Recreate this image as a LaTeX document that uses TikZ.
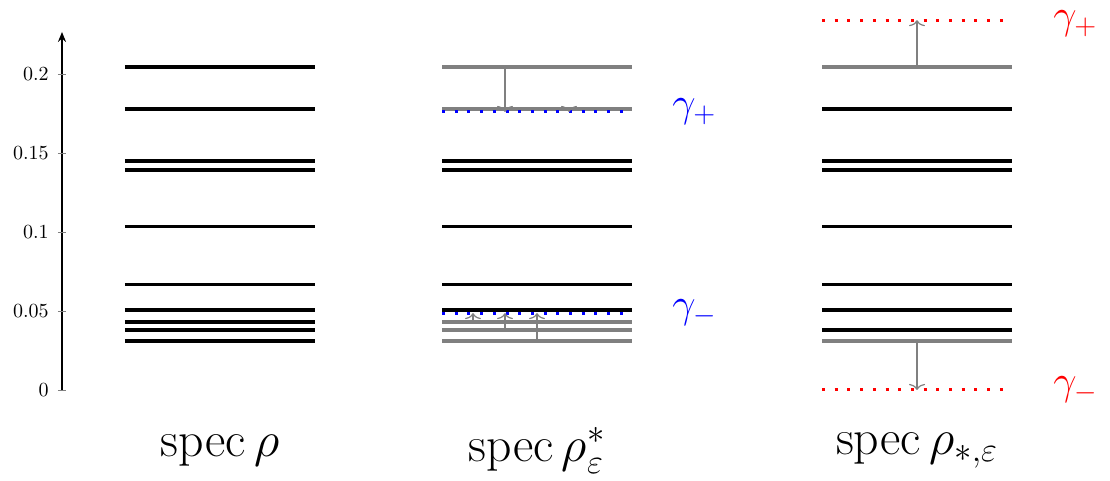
\documentclass[tikz,border=0pt]{standalone}
\usepackage{amsmath}
\usetikzlibrary{arrows.meta}
\definecolor{lvgray}{RGB}{128,128,128}
\begin{document}
\begin{tikzpicture}[x=0.5pt,y=790pt,
  level/.style={line width=1.6pt,black},
  glevel/.style={line width=1.6pt,lvgray},
  gamline/.style={line width=1.5pt,dash pattern=on 1.5pt off 4.85pt},
  shiftarr/.style={lvgray,line width=0.6pt,-{To[length=3pt,width=8pt]}},
  ticklab/.style={anchor=east,inner sep=0pt,font=\fontsize{9.6}{11}\selectfont},
  speclab/.style={anchor=center,font=\fontsize{25}{30}\selectfont},
  gamlab/.style={anchor=west,inner sep=0pt,font=\fontsize{22.5}{27}\selectfont}]
\useasboundingbox (-62,-0.0576) rectangle (1048,0.2468);
% axis
\coordinate (o) at (0,0);
\coordinate (top) at (0,0.2266);
\draw[line width=0.8pt,-{Stealth[length=5pt,width=4pt]}] (o) -- (top);
\foreach \v/\t in {0/0,0.05/0.05,0.1/0.1,0.15/0.15,0.2/0.2}{
  \draw[lvgray,line width=0.4pt] (-4,\v) -- (4,\v);
  \node[ticklab] (t\t) at (-13,\v) {$\t$};
}
% left column
\foreach \v [count=\i] in {0.2044,0.1778,0.1449,0.1392,0.1032,0.0665,0.0506,0.0430,0.0380,0.0310}{
  \draw[level] (63,\v) -- (253,\v);
}
% middle column
\foreach \v in {0.1449,0.1392,0.1032,0.0665,0.0506}{
  \draw[level] (380,\v) -- (570,\v);
}
\foreach \v in {0.2044,0.1778,0.0430,0.0380,0.0310}{
  \draw[glevel] (380,\v) -- (570,\v);
}
\draw[gamline,blue] (380,0.1760) -- (570,0.1760);
\draw[gamline,blue] (380,0.0486) -- (570,0.0486);
\coordinate (ma1) at (443,0.2044); \coordinate (mb1) at (443,0.1760);
\coordinate (ma2) at (507,0.1778); \coordinate (mb2) at (507,0.1760);
\coordinate (ma3) at (411,0.0430); \coordinate (mb3) at (411,0.0486);
\coordinate (ma4) at (443,0.0380); \coordinate (mb4) at (443,0.0486);
\coordinate (ma5) at (475,0.0310); \coordinate (mb5) at (475,0.0486);
\foreach \k in {1,...,5}{\draw[shiftarr] (ma\k) -- (mb\k);}
\node[gamlab,blue] (gpm) at (610,0.1760) {$\gamma_+$};
\node[gamlab,blue] (gmm) at (610,0.0486) {$\gamma_-$};
% right column
\foreach \v in {0.1778,0.1449,0.1392,0.1032,0.0665,0.0506,0.0380}{
  \draw[level] (760,\v) -- (950,\v);
}
\foreach \v in {0.2044,0.0310}{
  \draw[glevel] (760,\v) -- (950,\v);
}
\draw[gamline,red] (760,0.2340) -- (950,0.2340);
\draw[gamline,red] (760,0) -- (950,0);
\coordinate (ra1) at (855,0.2044); \coordinate (rb1) at (855,0.2340);
\coordinate (ra2) at (855,0.0310); \coordinate (rb2) at (855,0);
\draw[shiftarr] (ra1) -- (rb1);
\draw[shiftarr] (ra2) -- (rb2);
\node[gamlab,red] (gpr) at (991,0.2318) {$\gamma_+$};
\node[gamlab,red] (gmr) at (991,0) {$\gamma_-$};
% labels
\node[speclab] (l1) at (158,-0.0385) {$\operatorname{spec}\rho$};
\node[speclab] (l2) at (475,-0.0385) {$\operatorname{spec}\rho^*_\varepsilon$};
\node[speclab] (l3) at (855,-0.0385) {$\operatorname{spec}\rho_{*,\varepsilon}$};
\end{tikzpicture}
\end{document}
